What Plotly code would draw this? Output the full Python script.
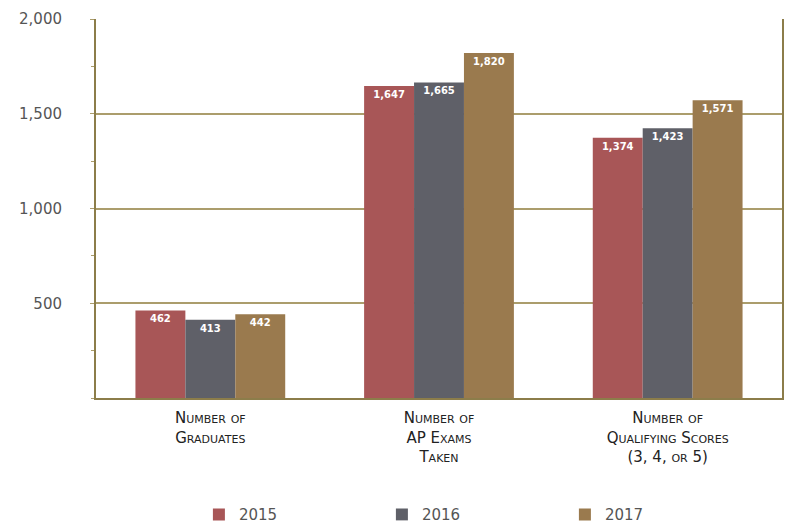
import plotly.graph_objects as go

categories = ["Number of<br>Graduates", "Number of<br>AP Exams<br>Taken", "Number of<br>Qualifying Scores<br>(3, 4, or 5)"]
years = ["2015", "2016", "2017"]
values_2015 = [462, 1647, 1374]
values_2016 = [413, 1665, 1423]
values_2017 = [442, 1820, 1571]
colors = ["#a85657", "#5f6068", "#9a7a4e"]
tick_vals = [500, 1000, 1500, 2000]
tick_text = ["500", "1,000", "1,500", "2,000"]

series = [values_2015, values_2016, values_2017]
fig = go.Figure()
for name, vals, col in zip(years, series, colors):
    fig.add_trace(go.Bar(
        x=categories, y=vals, name=name,
        marker=dict(color=col, line=dict(width=0)),
        text=[f"{v:,}" for v in vals],
        textposition="inside", insidetextanchor="end", textangle=0,
        constraintext="none",
        textfont=dict(family="DejaVu Sans", size=10, color="white", weight="bold"),
    ))

grid_col = "#ab9d6c"
fig.update_layout(
    width=790, height=523,
    margin=dict(l=96, r=8, t=19, b=125),
    paper_bgcolor="white", plot_bgcolor="white",
    barmode="group", bargap=0.345, bargroupgap=0,
    font=dict(family="DejaVu Sans", color="#555555"),
    xaxis=dict(
        showgrid=False, showline=True, linecolor="#8c7d4a", linewidth=2,
        mirror=False, ticks="", automargin=False, ticklabelstandoff=5,
        tickfont=dict(family="DejaVu Sans", size=15, color="#222222", variant="small-caps"),
    ),
    yaxis=dict(
        range=[0, 2000], tickvals=tick_vals, ticktext=tick_text,
        showgrid=True, gridcolor=grid_col, gridwidth=1.5,
        showline=True, linecolor="#8c7d4a", linewidth=2, mirror=True,
        ticks="outside", ticklen=4, tickcolor=grid_col,
        minor=dict(ticks="outside", ticklen=3, dtick=250, tickcolor=grid_col, showgrid=False),
        tickfont=dict(family="DejaVu Sans", size=15, color="#555555"),
        ticklabelstandoff=25, zeroline=False, automargin=False,
    ),
    legend=dict(
        orientation="h", x=0.15, xanchor="left", y=0.016, yref="container", yanchor="middle",
        entrywidth=138, entrywidthmode="pixels",
        font=dict(family="DejaVu Sans", size=15, color="#555555"),
        itemsizing="constant",
    ),
)
fig.write_html("out.html", config={"displayModeBar": False},
               post_script="document.body.style.margin='0';document.body.style.overflow='hidden';")
